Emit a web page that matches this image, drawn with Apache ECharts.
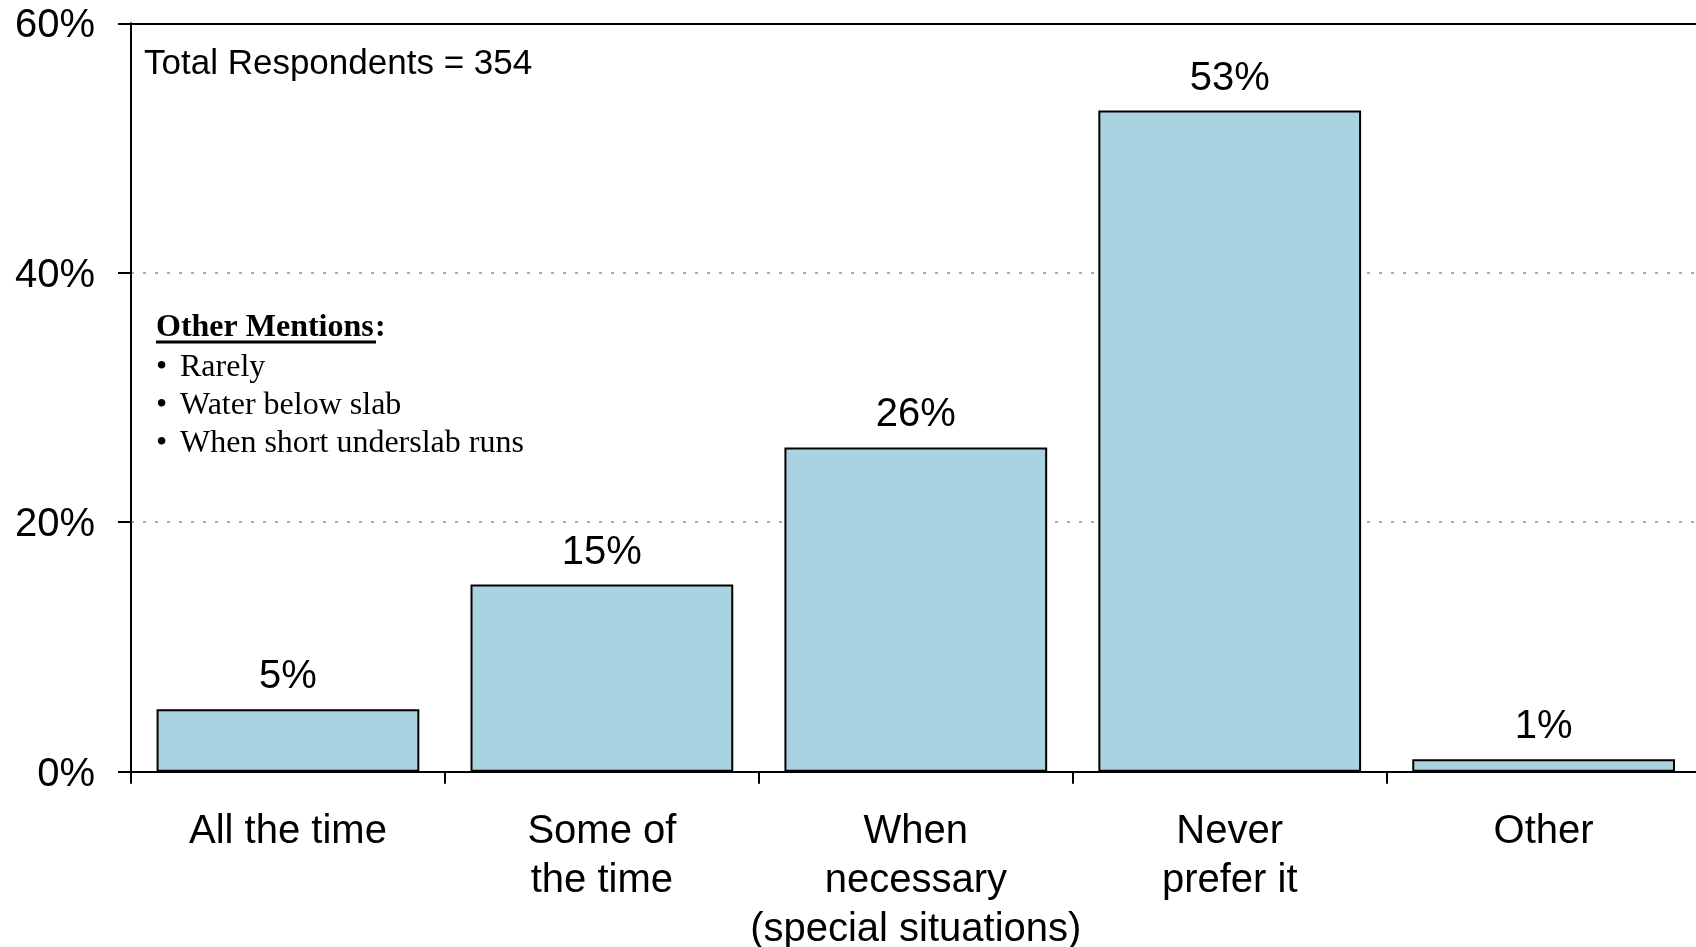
<!DOCTYPE html>
<html>
<head>
<meta charset="utf-8">
<title>Preference survey</title>
<script src="https://cdn.jsdelivr.net/npm/echarts@6/dist/echarts.min.js"></script>
<style>
  html, body { margin: 0; padding: 0; background: #ffffff; }
  #chart { width: 1696px; height: 947px; }
</style>
</head>
<body>
<div id="chart"></div>
<script>
// Survey answers and their share of respondents (%)
const categories = [
  'All the time',
  'Some of\nthe time',
  'When\nnecessary\n(special situations)',
  'Never\nprefer it',
  'Other'
];
const shares = [5, 15, 26, 53, 1];
const yTicks = { min: 0, max: 60, interval: 20 };

const noteTitle = 'Other Mentions';
const noteItems = ['Rarely', 'Water below slab', 'When short underslab runs'];
const respondentsNote = 'Total Respondents = 354';

const SANS = '"Liberation Sans", Arial, sans-serif';
const SERIF = '"Liberation Serif", "Times New Roman", serif';

const chart = echarts.init(document.getElementById('chart'), null, { renderer: 'canvas' });

const noteGraphics = [
  {
    type: 'text', x: 144, y: 64, z: 10,
    style: { text: respondentsNote, font: '35px ' + SANS, fill: '#000', verticalAlign: 'middle', align: 'left' }
  },
  {
    type: 'text', x: 156, y: 327.5, z: 10,
    style: { text: noteTitle, font: 'bold 32px ' + SERIF, fill: '#000', verticalAlign: 'middle', align: 'left' }
  },
  {
    type: 'text', x: 375, y: 327.5, z: 10,
    style: { text: ':', font: 'bold 32px ' + SERIF, fill: '#000', verticalAlign: 'middle', align: 'left' }
  },
  {
    type: 'line', z: 10,
    shape: { x1: 156, y1: 342, x2: 376, y2: 342 },
    style: { stroke: '#000', lineWidth: 3 }
  }
];
noteItems.forEach(function (item, i) {
  const y = 368 + i * 37.9;
  noteGraphics.push({
    type: 'text', x: 156, y: y, z: 10,
    style: { text: '\u2022', font: '32px ' + SERIF, fill: '#000', verticalAlign: 'middle', align: 'left' }
  });
  noteGraphics.push({
    type: 'text', x: 180, y: y, z: 10,
    style: { text: item, font: '32px ' + SERIF, fill: '#000', verticalAlign: 'middle', align: 'left' }
  });
});

chart.setOption({
  backgroundColor: '#ffffff',
  animation: false,
  grid: {
    left: 131, top: 23.3, width: 1569.6, height: 748.4,
    containLabel: false, outerBoundsMode: 'none'
  },
  xAxis: [
    {
      type: 'category',
      data: categories,
      position: 'bottom',
      boundaryGap: true,
      axisLine: { show: true, lineStyle: { color: '#000', width: 2 } },
      axisTick: { show: true, alignWithLabel: false, length: 12, lineStyle: { color: '#000', width: 2 } },
      axisLabel: {
        interval: 0, margin: 36, color: '#000',
        fontFamily: SANS, fontSize: 40, lineHeight: 49
      },
      splitLine: { show: false }
    },
    {
      type: 'category',
      data: categories,
      position: 'top',
      axisLine: { show: true, onZero: false, lineStyle: { color: '#000', width: 2 } },
      axisTick: { show: false },
      axisLabel: { show: false },
      splitLine: { show: false }
    }
  ],
  yAxis: {
    type: 'value',
    min: yTicks.min, max: yTicks.max, interval: yTicks.interval,
    axisLine: { show: true, lineStyle: { color: '#000', width: 2 } },
    axisTick: { show: true, length: 13, lineStyle: { color: '#000', width: 2 } },
    axisLabel: {
      formatter: '{value}%', margin: 36, color: '#000',
      fontFamily: SANS, fontSize: 40, verticalAlign: 'top', lineHeight: 6
    },
    splitLine: { show: true, lineStyle: { color: '#8f8f8f', width: 1.5, type: [3, 9] } }
  },
  series: [{
    type: 'bar',
    data: shares,
    barWidth: '83.7%',
    itemStyle: { color: '#A9D3E0', borderColor: '#000', borderWidth: 2 },
    label: {
      show: true, position: 'top', distance: 12,
      formatter: '{c}%', color: '#000', fontFamily: SANS, fontSize: 40
    }
  }],
  graphic: noteGraphics
});
</script>
</body>
</html>
